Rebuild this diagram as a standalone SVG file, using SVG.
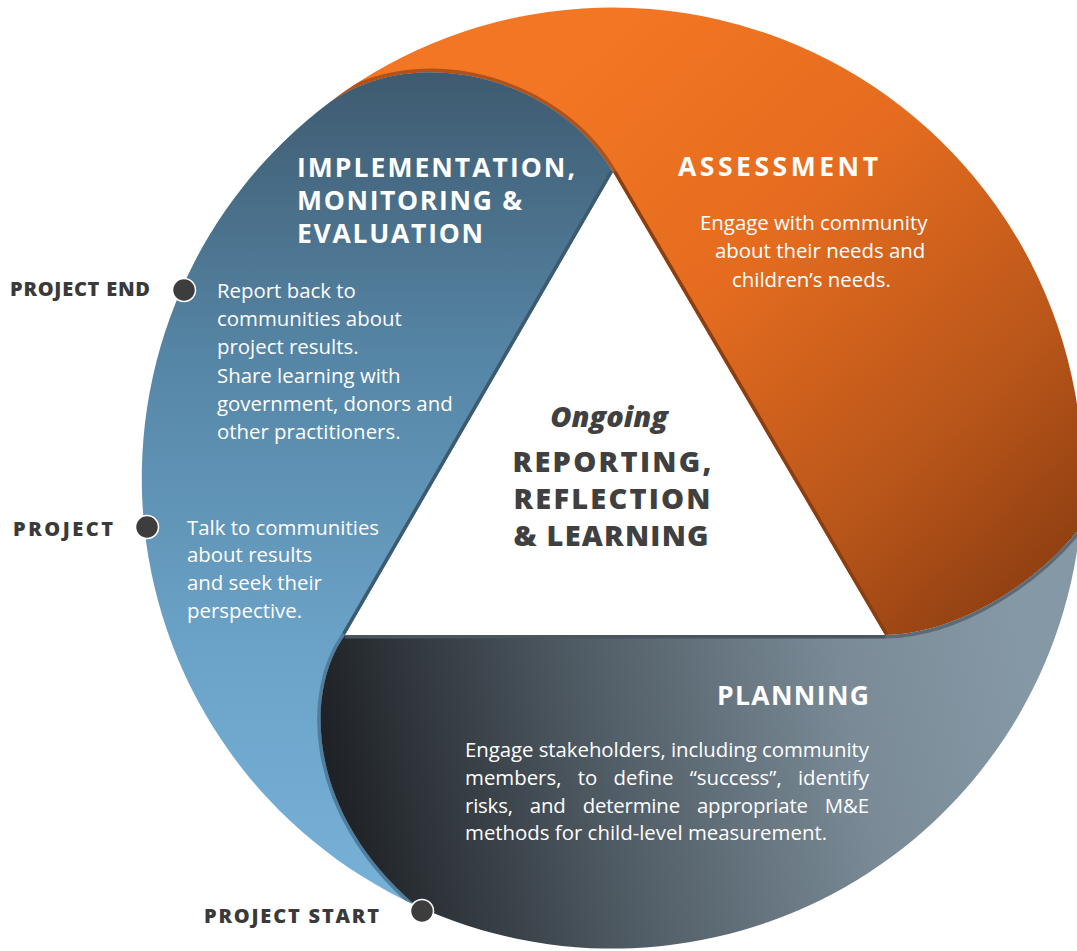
<svg xmlns="http://www.w3.org/2000/svg" width="1077" height="951" viewBox="0 0 1077 951">
<defs>
  <linearGradient id="gO" gradientUnits="userSpaceOnUse" x1="560" y1="80" x2="1060" y2="620">
    <stop offset="0" stop-color="#F27623"/>
    <stop offset="0.35" stop-color="#E56C1F"/>
    <stop offset="0.7" stop-color="#B9561A"/>
    <stop offset="1" stop-color="#873A10"/>
  </linearGradient>
  <linearGradient id="gB" gradientUnits="userSpaceOnUse" x1="0" y1="70" x2="0" y2="900">
    <stop offset="0" stop-color="#3E5A6F"/>
    <stop offset="0.35" stop-color="#5686A6"/>
    <stop offset="0.7" stop-color="#6BA3C8"/>
    <stop offset="1" stop-color="#77B1D8"/>
  </linearGradient>
  <linearGradient id="gD" gradientUnits="userSpaceOnUse" x1="320" y1="780" x2="1020" y2="640">
    <stop offset="0" stop-color="#1C1F23"/>
    <stop offset="0.4" stop-color="#515D66"/>
    <stop offset="0.75" stop-color="#7A8B97"/>
    <stop offset="1" stop-color="#8598A5"/>
  </linearGradient>
  <path id="shO" d="M330,102 A470,470 0 0 1 1080,528 C1040,580 960,634 885,635 L613,172 C560,80 420,40 330,102 Z"/>
  <path id="shB" d="M330,102 C420,40 560,80 613,172 L345,635 C305,690 305,810 415,905 A470,470 0 0 1 330,102 Z"/>
  <path id="shD" d="M345,635 L885,635 C960,634 1040,580 1080,528 A470,470 0 0 1 415,905 C305,810 305,690 345,635 Z"/>
  <clipPath id="cO"><use href="#shO"/></clipPath>
  <clipPath id="cB"><use href="#shB"/></clipPath>
  <clipPath id="cD"><use href="#shD"/></clipPath>
  <style>
    .head{font-family:"Open Sans","Liberation Sans",sans-serif;font-weight:700;fill:#ffffff;font-size:26.5px}
    .body{font-family:"Open Sans","Liberation Sans",sans-serif;font-weight:400;fill:#ffffff;font-size:20.4px}
    .ctr{font-family:"Open Sans","Liberation Sans",sans-serif;font-weight:800;fill:#404040;font-size:29px}
    .lab{font-family:"Open Sans","Liberation Sans",sans-serif;font-weight:800;fill:#3a3a3a;font-size:20px}
    .dot{fill:#3d3d3d;stroke:#ffffff;stroke-width:1.5}
    .rim{fill:none;stroke-width:7}
  </style>
</defs>
<rect width="1077" height="951" fill="#ffffff"/>

<g id="assessment">
  <use href="#shO" fill="url(#gO)"/>
  <g clip-path="url(#cO)">
    <path class="rim" stroke="#B0521A" d="M613,172 C560,80 420,40 330,102"/>
    <path class="rim" stroke="#8A3E11" d="M885,635 L613,172"/>
  </g>
  <text class="head" x="678" y="176" textLength="200" lengthAdjust="spacing">ASSESSMENT</text>
  <text class="body" x="700" y="230">Engage with community</text>
  <text class="body" x="715" y="258">about their needs and</text>
  <text class="body" x="732" y="287">children’s needs.</text>
</g>

<g id="implementation">
  <use href="#shB" fill="url(#gB)"/>
  <g clip-path="url(#cB)">
    <path class="rim" stroke="#3D5B70" d="M613,172 L345,635"/>
    <path class="rim" stroke="#4F7E9F" d="M345,635 C305,690 305,810 415,905"/>
  </g>
  <text class="head" x="297" y="177" textLength="278" lengthAdjust="spacing">IMPLEMENTATION,</text>
  <text class="head" x="297" y="210" textLength="225" lengthAdjust="spacing">MONITORING &amp;</text>
  <text class="head" x="297" y="243" textLength="186" lengthAdjust="spacing">EVALUATION</text>
  <text class="body" x="217" y="298">Report back to</text>
  <text class="body" x="217" y="326">communities about</text>
  <text class="body" x="217" y="354">project results.</text>
  <text class="body" x="217" y="383">Share learning with</text>
  <text class="body" x="217" y="411">government, donors and</text>
  <text class="body" x="217" y="439">other practitioners.</text>
  <text class="body" x="187" y="535">Talk to communities</text>
  <text class="body" x="187" y="562">about results</text>
  <text class="body" x="187" y="590">and seek their</text>
  <text class="body" x="187" y="618">perspective.</text>
</g>

<g id="planning">
  <use href="#shD" fill="url(#gD)"/>
  <g clip-path="url(#cD)">
    <path class="rim" stroke="#4A555E" d="M345,635 L885,635"/>
    <path class="rim" stroke="#5C6B76" d="M885,635 C960,634 1040,580 1080,528"/>
  </g>
  <text class="head" x="869" y="705" text-anchor="end" textLength="152" lengthAdjust="spacing">PLANNING</text>
  <text class="body" x="465" y="757" textLength="404" lengthAdjust="spacing">Engage stakeholders, including community</text>
  <text class="body" x="465" y="785" word-spacing="11" textLength="404" lengthAdjust="spacing">members, to define “success”, identify</text>
  <text class="body" x="465" y="813" word-spacing="12" textLength="404" lengthAdjust="spacing">risks, and determine appropriate M&amp;E</text>
  <text class="body" x="465" y="840">methods for child-level measurement.</text>
</g>

<g id="center">
  <text class="ctr" x="609" y="427" text-anchor="middle" font-style="italic" font-weight="600" font-size="30">Ongoing</text>
  <text class="ctr" x="612" y="472" text-anchor="middle" textLength="199" lengthAdjust="spacing">REPORTING,</text>
  <text class="ctr" x="612" y="509" text-anchor="middle" textLength="197" lengthAdjust="spacing">REFLECTION</text>
  <text class="ctr" x="611" y="546" text-anchor="middle" textLength="195" lengthAdjust="spacing">&amp; LEARNING</text>
</g>

<g id="milestones">
  <circle class="dot" cx="184" cy="290" r="11.5"/>
  <text class="lab" x="10" y="296" textLength="140" lengthAdjust="spacing">PROJECT END</text>
  <circle class="dot" cx="147" cy="527" r="11.5"/>
  <text class="lab" x="13" y="536" textLength="100" lengthAdjust="spacing">PROJECT</text>
  <circle class="dot" cx="422" cy="911" r="11.5"/>
  <text class="lab" x="204" y="923" textLength="175" lengthAdjust="spacing">PROJECT START</text>
</g>
</svg>
